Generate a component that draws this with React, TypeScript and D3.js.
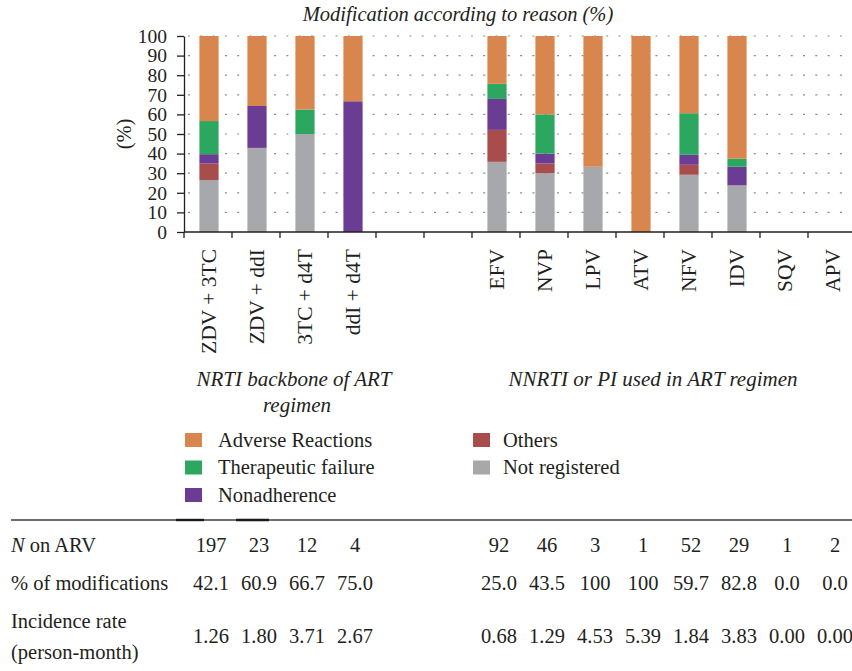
import React, { useEffect, useRef } from "react";
import * as d3 from "d3";

// categories ("" = empty slot between the two groups)
const categories = [
  "ZDV + 3TC", "ZDV + ddI", "3TC + d4T", "ddI + d4T", "", "",
  "EFV", "NVP", "LPV", "ATV", "NFV", "IDV", "SQV", "APV",
];

// series values (% of modifications by reason), bottom to top
const notRegistered = [26.5, 42.9, 50, 0, 0, 0, 35.8, 30, 33.3, 0, 29.2, 23.8, 0, 0];
const others = [8.4, 0, 0, 0, 0, 0, 16.3, 5, 0, 0, 5.1, 0, 0, 0];
const nonadherence = [4.8, 21.4, 0, 66.7, 0, 0, 15.8, 5, 0, 0, 5.1, 9.5, 0, 0];
const therapeutic = [16.9, 0, 12.5, 0, 0, 0, 7.7, 20, 0, 0, 21.2, 4.1, 0, 0];
const adverse = [43.4, 35.7, 37.5, 33.3, 0, 0, 24.4, 40, 66.7, 100, 39.4, 62.6, 0, 0];

// table rows under the chart
const nOnArv = ["197", "23", "12", "4", "", "", "92", "46", "3", "1", "52", "29", "1", "2"];
const pctModified = ["42.1", "60.9", "66.7", "75.0", "", "", "25.0", "43.5", "100", "100", "59.7", "82.8", "0.0", "0.0"];
const incidence = ["1.26", "1.80", "3.71", "2.67", "", "", "0.68", "1.29", "4.53", "5.39", "1.84", "3.83", "0.00", "0.00"];

const yTicks = d3.range(0, 101, 10);

const series = [
  { key: "notRegistered", label: "Not registered", color: "#a7a8ab", values: notRegistered },
  { key: "others", label: "Others", color: "#a84d4b", values: others },
  { key: "nonadherence", label: "Nonadherence", color: "#6b3c93", values: nonadherence },
  { key: "therapeutic", label: "Therapeutic failure", color: "#2ba760", values: therapeutic },
  { key: "adverse", label: "Adverse Reactions", color: "#d8864d", values: adverse },
];

const FONT = "'Liberation Serif', 'DejaVu Serif', serif";
const INK = "#231f20";
const TXT = 20.5;

const App = () => {
  const svgRef = useRef(null);

  useEffect(() => {
    const width = 852;
    const left = 184;
    const right = 856;
    const top = 36;
    const bottom = 232;

    const svg = d3.select(svgRef.current);
    svg.selectAll("*").remove();

    const idx = categories.map((_, i) => i);
    const x = d3.scaleBand().domain(idx).range([left, right]).paddingInner(0.6).paddingOuter(0.3);
    const y = d3.scaleLinear().domain([0, 100]).range([bottom, top]);
    const step = x.step();

    // one row per category for the stack
    const rows = categories.map((c, i) => {
      const r = { i };
      series.forEach((s) => (r[s.key] = s.values[i]));
      return r;
    });
    const stacked = d3.stack().keys(series.map((s) => s.key))(rows);

    // title
    svg.append("text")
      .attr("x", 458).attr("y", 21)
      .attr("text-anchor", "middle")
      .attr("font-family", FONT).attr("font-style", "italic").attr("font-size", TXT)
      .attr("fill", INK)
      .text("Modification according to reason (%)");

    // dotted grid
    svg.append("g")
      .selectAll("line")
      .data(yTicks.filter((t) => t > 0))
      .join("line")
      .attr("x1", left + 4).attr("x2", width)
      .attr("y1", (d) => y(d)).attr("y2", (d) => y(d))
      .attr("stroke", "#8a8a8a").attr("stroke-width", 1.2)
      .attr("stroke-dasharray", "2,10.3");

    // bars
    svg.append("g")
      .selectAll("g")
      .data(stacked)
      .join("g")
      .attr("fill", (d, i) => series[i].color)
      .selectAll("rect")
      .data((d) => d)
      .join("rect")
      .attr("x", (d) => x(d.data.i) + 1)
      .attr("width", x.bandwidth())
      .attr("y", (d) => y(d[1]))
      .attr("height", (d) => y(d[0]) - y(d[1]));

    // y axis
    const yAxis = svg.append("g")
      .attr("transform", `translate(${left},0)`)
      .call(d3.axisLeft(y).tickValues(yTicks).tickSize(7).tickPadding(10).tickSizeOuter(0));
    yAxis.select(".domain").attr("stroke", INK).attr("stroke-width", 1.3);
    yAxis.selectAll(".tick line").attr("stroke", INK).attr("stroke-width", 1.3);
    yAxis.selectAll(".tick text")
      .attr("font-family", FONT).attr("font-size", 19.5).attr("fill", INK);

    svg.append("text")
      .attr("transform", `translate(131,${(top + bottom) / 2}) rotate(-90)`)
      .attr("text-anchor", "middle")
      .attr("font-family", FONT).attr("font-size", TXT).attr("fill", INK)
      .text("(%)");

    // x axis
    const xg = svg.append("g");
    xg.append("line")
      .attr("x1", left).attr("x2", right)
      .attr("y1", bottom).attr("y2", bottom)
      .attr("stroke", INK).attr("stroke-width", 1.3);
    xg.selectAll(".tk")
      .data(d3.range(0, categories.length + 1))
      .join("line")
      .attr("class", "tk")
      .attr("x1", (i) => left + i * step).attr("x2", (i) => left + i * step)
      .attr("y1", bottom).attr("y2", bottom + 6)
      .attr("stroke", INK).attr("stroke-width", 1.3);
    xg.selectAll(".lab")
      .data(idx.filter((i) => categories[i] !== ""))
      .join("text")
      .attr("class", "lab")
      .attr("transform", (i) => `translate(${x(i) + x.bandwidth() / 2 + 8},249) rotate(-90)`)
      .attr("text-anchor", "end")
      .attr("font-family", FONT).attr("font-size", 21.5).attr("fill", INK)
      .text((i) => categories[i]);

    // group labels
    const gl = svg.append("g")
      .attr("font-family", FONT).attr("font-style", "italic").attr("font-size", 21)
      .attr("fill", INK).attr("text-anchor", "middle");
    gl.append("text").attr("x", 294).attr("y", 386).text("NRTI backbone of ART");
    gl.append("text").attr("x", 297).attr("y", 412).text("regimen");
    gl.append("text").attr("x", 653).attr("y", 386).text("NNRTI or PI used in ART regimen");

    // legend
    const legendItems = [
      { s: series[4], col: 0, row: 0 },
      { s: series[3], col: 0, row: 1 },
      { s: series[2], col: 0, row: 2 },
      { s: series[1], col: 1, row: 0 },
      { s: series[0], col: 1, row: 1 },
    ];
    const lg = svg.append("g").selectAll("g")
      .data(legendItems)
      .join("g")
      .attr("transform", (d) => `translate(${d.col ? 473 : 185},${433 + d.row * 27.5})`);
    lg.append("rect").attr("width", 17).attr("height", 14).attr("fill", (d) => d.s.color);
    lg.append("text")
      .attr("x", (d) => (d.col ? 30 : 33)).attr("y", 13.5)
      .attr("font-family", FONT).attr("font-size", TXT).attr("fill", INK)
      .text((d) => d.s.label);

    // table rule
    svg.append("line")
      .attr("x1", 11).attr("x2", width).attr("y1", 520).attr("y2", 520)
      .attr("stroke", "#6d6d6d").attr("stroke-width", 2);
    [[176, 204], [236, 269]].forEach(([a, b]) => {
      svg.append("line")
        .attr("x1", a).attr("x2", b).attr("y1", 520).attr("y2", 520)
        .attr("stroke", "#1a1a1a").attr("stroke-width", 2.4);
    });

    // table
    const tb = svg.append("g").attr("font-family", FONT).attr("font-size", TXT).attr("fill", INK);
    const rowLabel = tb.append("text").attr("x", 11).attr("y", 552);
    rowLabel.append("tspan").attr("font-style", "italic").text("N");
    rowLabel.append("tspan").text(" on ARV");
    tb.append("text").attr("x", 11).attr("y", 590).text("% of modifications");
    tb.append("text").attr("x", 11).attr("y", 628).text("Incidence rate");
    tb.append("text").attr("x", 11).attr("y", 659).text("(person-month)");

    const tableRows = [
      { vals: nOnArv, y: 552 },
      { vals: pctModified, y: 590 },
      { vals: incidence, y: 643 },
    ];
    tableRows.forEach((r) => {
      tb.append("g").selectAll("text")
        .data(idx.filter((i) => r.vals[i] !== ""))
        .join("text")
        .attr("x", (i) => x(i) + x.bandwidth() / 2 + 3)
        .attr("y", r.y)
        .attr("text-anchor", "middle")
        .text((i) => r.vals[i]);
    });
  }, []);

  return (
    <svg
      ref={svgRef}
      width={852}
      height={671}
      style={{ position: "absolute", left: 0, top: 0, background: "#fff" }}
    />
  );
};

export default App;
